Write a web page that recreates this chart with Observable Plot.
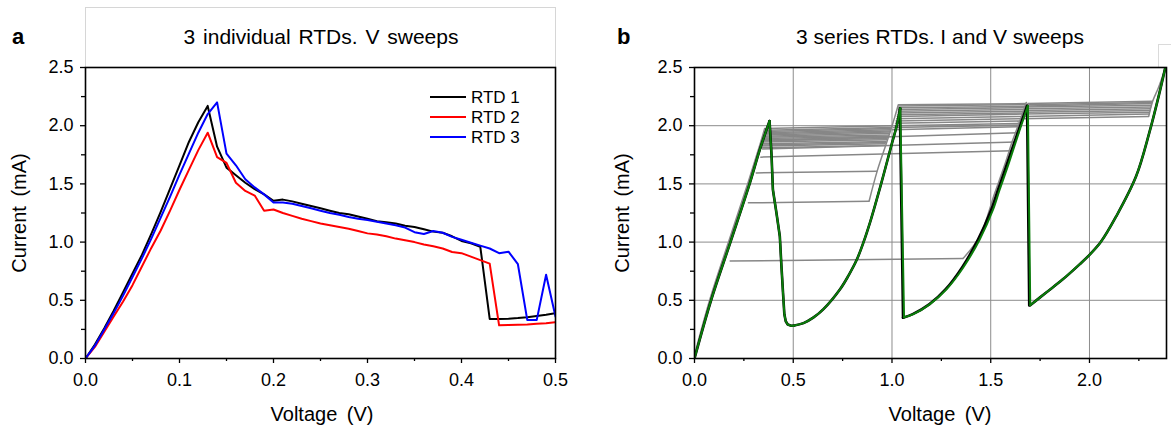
<!DOCTYPE html>
<html><head><meta charset="utf-8">
<script src="https://cdn.jsdelivr.net/npm/d3@7"></script>
<script src="https://cdn.jsdelivr.net/npm/@observablehq/plot@0.6"></script>
<style>
body{margin:0;background:#fff;font-family:"Liberation Sans",Arial,sans-serif;}
#wrap{position:relative;width:1171px;height:432px;overflow:hidden;background:#fff}
.abs{position:absolute;white-space:nowrap;line-height:1;color:#000}
.plot{position:absolute;top:0}
</style></head><body>
<div id="wrap">
  <div class="abs" style="left:85px;top:7px;width:469px;height:60px;border:1px solid #d6d6d6;border-bottom:none"></div>
  <div class="abs" style="left:1158px;top:44px;width:20px;height:23px;border-left:1px solid #dadada;border-top:1px solid #dadada"></div>
  <div id="pa" class="plot" style="left:0"></div>
  <div id="pb" class="plot" style="left:585px"></div>
  <div class="abs" style="left:12px;top:26px;font-size:22px;font-weight:bold">a</div>
  <div class="abs" style="left:617px;top:26px;font-size:22px;font-weight:bold">b</div>
  <div class="abs" style="left:321px;top:26px;font-size:21px;word-spacing:2px;transform:translateX(-50%)">3 individual RTDs. V sweeps</div>
  <div class="abs" style="left:940px;top:26px;font-size:21px;transform:translateX(-50%)">3 series RTDs. I and V sweeps</div>
  <div class="abs" style="left:322px;top:404px;font-size:20px;word-spacing:4px;transform:translateX(-50%)">Voltage (V)</div>
  <div class="abs" style="left:940px;top:404px;font-size:20px;word-spacing:4px;transform:translateX(-50%)">Voltage (V)</div>
  <div class="abs" style="left:19px;top:213px;font-size:20px;word-spacing:4px;transform:translate(-50%,-50%) rotate(-90deg)">Current (mA)</div>
  <div class="abs" style="left:622px;top:213px;font-size:20px;word-spacing:4px;transform:translate(-50%,-50%) rotate(-90deg)">Current (mA)</div>
  <div id="legend"></div>
</div>
<script>
// ---------- Panel a data ----------
const seriesA = ["RTD 1", "RTD 2", "RTD 3"];
const colorsA = ["#000000", "#ff0000", "#0000ff"];
const voltageA = [0,0.01,0.02,0.03,0.04,0.05,0.06,0.07,0.08,0.09,0.10,0.11,0.12,0.13,0.14,0.15,0.16,0.17,0.18,0.19,0.20,
  0.21,0.22,0.23,0.24,0.25,0.26,0.27,0.28,0.29,0.30,0.31,0.32,0.33,0.34,0.35,0.36,0.37,0.38,0.39,0.40,
  0.41,0.42,0.43,0.44,0.45,0.46,0.47,0.48,0.49,0.50];
const rtd1 = [0,0.12,0.26,0.41,0.57,0.73,0.89,1.07,1.26,1.46,1.66,1.86,2.03,2.17,
  1.82,1.64,1.575,1.51,1.455,1.41,1.355,
  1.365,1.35,1.33,1.31,1.29,1.27,1.25,1.24,1.22,1.20,
  1.18,1.17,1.16,1.14,1.13,1.11,1.09,1.08,1.05,1.01,
  0.99,0.96,0.34,0.34,0.342,0.347,0.355,0.365,0.375,0.39];
const rtd2 = [0,0.10,0.23,0.36,0.49,0.63,0.79,0.95,1.10,1.27,1.45,1.62,1.79,1.94,
  1.73,1.68,1.51,1.44,1.40,1.27,1.28,
  1.25,1.225,1.20,1.18,1.16,1.145,1.13,1.115,1.095,1.075,
  1.065,1.05,1.03,1.015,1.0,0.98,0.965,0.945,0.915,0.905,
  0.875,0.845,0.815,0.285,0.287,0.29,0.293,0.298,0.303,0.312];
const rtd3 = [0,0.11,0.25,0.39,0.54,0.70,0.86,1.03,1.21,1.39,1.58,1.76,1.94,2.10,2.20,
  1.76,1.66,1.54,1.47,1.41,1.34,
  1.34,1.33,1.31,1.29,1.27,1.25,1.235,1.215,1.20,1.19,
  1.175,1.16,1.145,1.125,1.085,1.07,1.095,1.08,1.045,1.02,
  0.995,0.97,0.945,0.905,0.918,0.81,0.33,0.33,0.72,0.36];
const xTicksA = [0,0.1,0.2,0.3,0.4,0.5];
const xMinorA = [0.05,0.15,0.25,0.35,0.45];
const yTicks = [0,0.5,1.0,1.5,2.0,2.5];
const yMinor = [0.25,0.75,1.25,1.75,2.25];

// ---------- Panel b data ----------
const xTicksB = [0,0.5,1.0,1.5,2.0];
const xMinorB = [0.25,0.75,1.25,1.75,2.25];
const gridB = [0.5,1.0,1.5,2.0];
// V sweep (green): rising branches and switching drops, [V, I]
const gRise1 = [[0,0],[0.084,0.5],[0.182,1.0],[0.279,1.5],[0.33,1.79],[0.38,2.04]];
const gDrop1 = [[0.38,2.04],[0.39,1.75],[0.397,1.45],[0.415,1.25],[0.432,1.05],[0.44,0.80],[0.448,0.57],[0.455,0.38],[0.462,0.32],[0.472,0.292],[0.49,0.282],[0.5,0.282]];
const gRise2 = [[0.5,0.282],[0.552,0.304],[0.603,0.353],[0.653,0.424],[0.737,0.595],[0.779,0.71],[0.822,0.85],[0.855,0.995],[0.889,1.17],[0.92,1.35],[0.948,1.52],[0.975,1.69],[1.0,1.85],[1.024,2.0],[1.042,2.15]];
const gDrop2 = [[1.042,2.15],[1.061,0.353]];
const gRise3 = [[1.061,0.353],[1.108,0.381],[1.192,0.467],[1.276,0.595],[1.36,0.78],[1.444,1.023],[1.512,1.28],[1.545,1.45],[1.58,1.62],[1.613,1.79],[1.65,1.98],[1.688,2.17]];
const gDrop3 = [[1.688,2.17],[1.70,0.458]];
const gRise4 = [[1.70,0.458],[1.781,0.567],[1.865,0.68],[1.95,0.809],[2.0,0.89],[2.057,1.0],[2.135,1.22],[2.236,1.565],[2.303,1.94],[2.354,2.28],[2.384,2.5]];
// black V sweep where it shows beside the green one
const bDrop2 = [[1.04,2.15],[1.056,0.35]];
const bRise3 = [[1.056,0.35],[1.105,0.381],[1.19,0.467],[1.272,0.595],[1.354,0.78],[1.436,1.023],[1.503,1.28],[1.537,1.45],[1.572,1.62],[1.606,1.79],[1.645,1.98],[1.684,2.17]];
const bDrop3 = [[1.684,2.17],[1.695,0.455]];
// I sweeps (grey): branches climbed and the voltage jumps between them
const grayB1 = [[0,0.03],[0.08,0.52],[0.176,1.02],[0.273,1.52],[0.33,1.83],[0.355,1.975]];
const grayB2 = [[0.884,1.351],[0.925,1.61],[0.97,1.84],[0.995,1.97],[1.015,2.08],[1.032,2.18]];
const grayB3 = [[1.36,0.86],[1.444,1.05],[1.52,1.42],[1.57,1.66],[1.61,1.87],[1.645,2.03],[1.68,2.2]];
const grayB4 = [[2.30,2.08],[2.32,2.21],[2.35,2.33],[2.385,2.5]];
// [V start, I start, V end, I end]
const jumps = [
  [0.178,0.837,1.36,0.86],
  [0.270,1.337,0.884,1.351],
  [0.310,1.594,0.925,1.608],
  [0.333,1.73,1.612,1.785],
  [0.342,1.80,1.628,1.86],
  [0.349,1.87,1.645,1.94],
  [0.335,1.81,0.965,1.83],[0.337,1.825,0.968,1.845],[0.339,1.835,0.970,1.855],[0.341,1.845,0.972,1.865],
  [0.343,1.86,0.975,1.88],[0.345,1.87,0.978,1.89],[0.346,1.88,0.98,1.90],[0.347,1.89,0.983,1.91],
  [0.348,1.90,0.985,1.92],[0.349,1.91,0.988,1.935],[0.350,1.92,0.99,1.945],[0.351,1.93,0.993,1.955],
  [0.352,1.94,0.996,1.965],[0.353,1.95,0.999,1.975],[0.354,1.96,1.002,1.985],[0.355,1.975,1.005,2.0],
  [1.0,1.965,1.635,1.99],[1.005,1.985,1.64,2.005],[1.01,2.0,1.645,2.02],[1.015,2.02,1.65,2.04],
  [1.018,2.04,1.655,2.06],[1.021,2.06,1.66,2.08],[1.024,2.08,1.665,2.10],[1.026,2.095,1.668,2.11],
  [1.028,2.11,1.671,2.125],[1.03,2.125,1.674,2.14],[1.031,2.14,1.677,2.155],[1.032,2.155,1.679,2.165],
  [1.032,2.17,1.68,2.18],[1.033,2.18,1.68,2.19],
  [1.655,2.06,2.30,2.08],[1.662,2.08,2.303,2.10],[1.667,2.10,2.306,2.115],[1.671,2.115,2.309,2.13],
  [1.674,2.13,2.311,2.145],[1.677,2.145,2.313,2.16],[1.679,2.16,2.315,2.175],[1.681,2.17,2.317,2.19],
  [1.683,2.18,2.319,2.20],[1.685,2.19,2.32,2.21]
];

// ---------- build ----------
const FONT = '"Liberation Sans", Arial, sans-serif';
const styleObj = {fontFamily: FONT, fontSize: "18px", background: "transparent", color: "#000", overflow: "visible"};
const fmt = d => d.toFixed(1);

const rowsA = [];
[rtd1, rtd2, rtd3].forEach((arr, k) => arr.forEach((c, j) => rowsA.push({v: voltageA[j], c, s: seriesA[k]})));

const plotA = Plot.plot({
  width: 585, height: 432,
  marginLeft: 85, marginRight: 30, marginTop: 67, marginBottom: 74,
  x: {domain: [0, 0.5], label: null},
  y: {domain: [0, 2.5], label: null},
  color: {domain: seriesA, range: colorsA},
  style: styleObj,
  marks: [
    Plot.line(rowsA, {x: "v", y: "c", z: "s", stroke: "s", strokeWidth: 2, clip: true}),
    Plot.frame({stroke: "#000", strokeWidth: 1.6}),
    Plot.axisX({ticks: xTicksA, tickSize: 5, tickPadding: 10, tickFormat: fmt, label: null, strokeWidth: 1.3}),
    Plot.axisX({ticks: xMinorA, tickSize: 3, tickFormat: () => "", label: null, strokeWidth: 1.3}),
    Plot.axisY({ticks: yTicks, tickSize: 5, tickPadding: 7, tickFormat: fmt, label: null, strokeWidth: 1.3}),
    Plot.axisY({ticks: yMinor, tickSize: 4, tickFormat: () => "", label: null, strokeWidth: 1.3})
  ]
});
document.getElementById("pa").appendChild(plotA);

const toRows = segs => segs.flatMap((seg, k) => seg.map(p => ({v: p[0], c: p[1], seg: k})));
const grayRows = toRows([grayB1, grayB2, grayB3, grayB4]);
const greenRise = toRows([gRise1, gRise2, gRise3, gRise4]);
const greenDrop = toRows([gDrop1, gDrop2, gDrop3]);
const blackRise = toRows([gRise1, gRise2, bRise3, gRise4]);
const blackDrop = toRows([gDrop1, bDrop2, bDrop3]);
const GREEN = "#0a7d0a";

const plotB = Plot.plot({
  width: 586, height: 432,
  marginLeft: 109, marginRight: 5, marginTop: 67, marginBottom: 74,
  x: {domain: [0, 2.39], label: null},
  y: {domain: [0, 2.5], label: null},
  style: styleObj,
  marks: [
    Plot.gridX({ticks: gridB, stroke: "#8c8c8c", strokeOpacity: 1, strokeWidth: 1}),
    Plot.gridY({ticks: gridB, stroke: "#8c8c8c", strokeOpacity: 1, strokeWidth: 1}),
    Plot.link(jumps, {x1: d => d[0], y1: d => d[1], x2: d => d[2], y2: d => d[3], stroke: "#878787", strokeWidth: 1.5, clip: true}),
    Plot.line(grayRows, {x: "v", y: "c", z: "seg", stroke: "#878787", strokeWidth: 1.5, curve: "catmull-rom", clip: true}),
    Plot.line(blackRise, {x: "v", y: "c", z: "seg", stroke: "#000", strokeWidth: 2.6, curve: "catmull-rom", clip: true}),
    Plot.line(blackDrop, {x: "v", y: "c", z: "seg", stroke: "#000", strokeWidth: 2.6, clip: true}),
    Plot.line(greenRise, {x: "v", y: "c", z: "seg", stroke: GREEN, strokeWidth: 2, curve: "catmull-rom", clip: true}),
    Plot.line(greenDrop, {x: "v", y: "c", z: "seg", stroke: GREEN, strokeWidth: 2, clip: true}),
    Plot.frame({stroke: "#000", strokeWidth: 1.6}),
    Plot.axisX({ticks: xTicksB, tickSize: 5, tickPadding: 10, tickFormat: fmt, label: null, strokeWidth: 1.3}),
    Plot.axisX({ticks: xMinorB, tickSize: 3, tickFormat: () => "", label: null, strokeWidth: 1.3}),
    Plot.axisY({ticks: yTicks, tickSize: 5, tickPadding: 7, tickFormat: fmt, label: null, strokeWidth: 1.3}),
    Plot.axisY({ticks: yMinor, tickSize: 4, tickFormat: () => "", label: null, strokeWidth: 1.3})
  ]
});
document.getElementById("pb").appendChild(plotB);

// legend (panel a)
const leg = document.getElementById("legend");
const legY = [97, 117, 137];
seriesA.forEach((s, k) => {
  const sw = document.createElementNS("http://www.w3.org/2000/svg", "svg");
  sw.setAttribute("width", 36); sw.setAttribute("height", 6);
  sw.style.position = "absolute"; sw.style.left = "430px"; sw.style.top = (legY[k] - 3) + "px";
  sw.innerHTML = `<line x1="0" y1="3" x2="36" y2="3" stroke="${colorsA[k]}" stroke-width="2"/>`;
  leg.appendChild(sw);
  const t = document.createElement("div");
  t.className = "abs";
  t.style.left = "471px"; t.style.top = (legY[k] - 8.5) + "px"; t.style.fontSize = "17px";
  t.textContent = s;
  leg.appendChild(t);
});
</script>
</body></html>
